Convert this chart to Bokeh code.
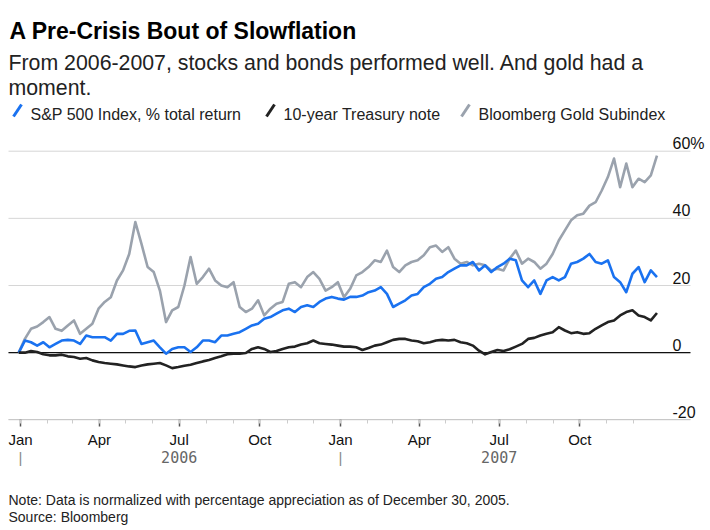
import pandas as pd
from bokeh.plotting import figure
from bokeh.models import Range1d, FixedTicker, Label, Arrow, ColumnDataSource
from bokeh.embed import file_html
from bokeh.resources import INLINE

# ---------------- data (weekly) ----------------
first_date = "2005-12-30"
n_weeks = 105

sp500 = [0, 3.6, 3.1, 2.1, 3.1, 1.6, 2.6, 3.6, 3.8, 3.6,
         2.6, 5.1, 4.6, 4.6, 4.6, 3.6, 5.6, 5.6, 6.5, 6.6,
         2.6, 3.1, 3.6, 1.6, -0.3, 1.1, 1.6, 1.6, 0.2, 1.6,
         3.6, 3.6, 3.1, 5.1, 5.1, 5.6, 6.1, 7.1, 8.1, 8.6,
         10.1, 10.6, 11.6, 12.6, 13.1, 12.1, 13.6, 14.1, 13.6, 15.1,
         16.1, 16.6, 16.1, 15.8, 16.6, 16.6, 17.0, 18.0, 18.5, 19.5,
         17.5, 13.6, 14.6, 15.6, 17.0, 17.5, 19.5, 20.5, 22.0, 22.5,
         24.0, 25.0, 26.0, 26.0, 27.0, 24.5, 26.0, 24.0, 25.5, 26.5,
         28.0, 27.5, 21.5, 19.5, 21.5, 17.5, 21.5, 22.5, 21.5, 22.5,
         26.5, 27.0, 28.0, 29.4, 27.0, 26.5, 27.5, 22.5, 21.0, 18.0,
         23.5, 25.5, 21.0, 24.5, 22.5]

treasury = [0, 0.0, 0.5, 0.2, -0.5, -0.8, -0.8, -0.6, -1.1, -1.3,
            -1.8, -1.6, -2.3, -2.8, -3.1, -3.3, -3.5, -3.8, -4.1, -4.3,
            -3.8, -3.5, -3.3, -3.1, -3.8, -4.6, -4.3, -3.9, -3.6, -3.1,
            -2.6, -2.2, -1.6, -1.1, -0.5, -0.3, -0.3, -0.1, 1.1, 1.6,
            1.1, 0.2, 0.5, 1.1, 1.6, 1.8, 2.4, 2.8, 3.6, 2.8,
            2.6, 2.4, 2.1, 1.8, 1.8, 1.6, 0.8, 1.4, 2.1, 2.4,
            3.1, 3.8, 4.1, 4.1, 3.6, 3.4, 2.8, 3.1, 3.6, 3.8,
            3.6, 3.8, 3.1, 2.8, 2.1, 0.6, -0.5, 0.2, 0.8, 0.5,
            1.0, 1.8, 2.6, 4.1, 4.4, 5.1, 5.6, 6.1, 7.6, 6.6,
            5.8, 6.1, 5.6, 5.8, 7.1, 8.1, 9.1, 9.6, 11.1, 12.1,
            12.6, 11.1, 10.6, 9.6, 11.8]

gold = [0, 4.1, 7.1, 7.8, 9.1, 10.6, 7.1, 6.5, 8.1, 9.6,
        5.6, 7.1, 8.6, 13.1, 15.1, 16.5, 21.5, 24.5, 29.4, 38.9,
        32.4, 25.5, 24.0, 18.5, 9.1, 12.6, 13.6, 20.0, 28.5, 20.5,
        22.5, 25.0, 21.5, 20.0, 19.5, 21.0, 13.6, 12.1, 13.1, 15.6,
        11.1, 13.1, 14.6, 15.1, 20.5, 21.0, 19.5, 22.5, 24.0, 22.0,
        18.5, 19.5, 21.0, 16.5, 19.0, 23.0, 24.0, 25.5, 27.5, 27.0,
        30.4, 25.5, 24.0, 26.0, 27.0, 27.5, 29.0, 31.4, 31.9, 30.0,
        31.4, 28.0, 26.5, 27.0, 26.0, 26.5, 26.0, 24.5, 25.0, 24.5,
        28.0, 30.4, 26.5, 28.0, 27.0, 25.0, 26.5, 29.4, 33.4, 36.4,
        39.4, 40.9, 41.4, 43.8, 44.8, 48.3, 52.3, 57.8, 49.3, 56.3,
        49.3, 51.8, 50.8, 52.8, 58.7]

series_names = ["S&P 500 Index, % total return", "10-year Treasury note", "Bloomberg Gold Subindex"]
y_ticks = [-20, 0, 20, 40, 60]
y_tick_labels = ["-20", "0", "20", "40", "60%"]
major_tick_dates = ["2006-01-01", "2006-04-01", "2006-07-01", "2006-10-01",
                    "2007-01-01", "2007-04-01", "2007-07-01", "2007-10-01"]
major_tick_labels = ["Jan", "Apr", "Jul", "Oct", "Jan", "Apr", "Jul", "Oct"]
year_labels = ["2006", "2007"]
year_centers = ["2006-07-01", "2007-07-01"]
year_starts = ["2006-01-01", "2007-01-01"]

title_text = "A Pre-Crisis Bout of Slowflation"
subtitle_lines = ["From 2006-2007, stocks and bonds performed well. And gold had a", "moment."]
note_lines = ["Note: Data is normalized with percentage appreciation as of December 30, 2005.",
              "Source: Bloomberg"]

# ---------------- layout ----------------
def ms(d):
    return pd.Timestamp(d).value / 1e6

W, H = 706, 528
X_START, X_END = "2005-12-09 04:30", "2008-02-22 12:00"      # whole canvas width
PLOT_LEFT, PLOT_RIGHT = "2005-12-18 07:30", "2008-02-04 05:00"  # visible chart area
AXIS_PX = 419.3            # pixel row of the -20 level (x axis)
PX_PER_UNIT = 268.6 / 80
Y_MIN = -20 - (H - AXIS_PX) / PX_PER_UNIT
Y_MAX = -20 + AXIS_PX / PX_PER_UNIT


def sy(page_y):
    """screen y (up from the frame bottom) for a pixel row"""
    return H - page_y


dates = pd.date_range(first_date, periods=n_weeks, freq="7D")
src = ColumnDataSource(dict(date=dates, sp=sp500, tr=treasury, au=gold))
grid_src = ColumnDataSource(dict(x0=[ms(PLOT_LEFT)] * len(y_ticks), x1=[ms(PLOT_RIGHT)] * len(y_ticks),
                                 y=y_ticks))

BLUE = "#1a72f0"
BLACK = "#222222"
GRAY = "#9aa2ad"
FONT = "Liberation Sans"

p = figure(width=W, height=H, x_axis_type="datetime", y_axis_location=None,
           output_backend="svg", toolbar_location=None, title=None,
           x_range=Range1d(ms(X_START), ms(X_END)),
           y_range=Range1d(Y_MIN, Y_MAX),
           min_border_left=0, min_border_right=0, min_border_top=0, min_border_bottom=0)
p.outline_line_color = None
p.background_fill_color = "white"
p.border_fill_color = "white"
p.xgrid.visible = False
p.ygrid.visible = False

# gridlines (the -20 one is covered by the axis) and zero line
p.segment("x0", "y", "x1", "y", source=grid_src, line_color="#d6d6d6", line_width=1)
p.segment(x0=[ms(PLOT_LEFT)], y0=[0], x1=[ms(PLOT_RIGHT)], y1=[0], line_color="#111111", line_width=1.2)

p.line("date", "au", source=src, line_color=GRAY, line_width=2.6, line_join="round")
p.line("date", "sp", source=src, line_color=BLUE, line_width=2.6, line_join="round")
p.line("date", "tr", source=src, line_color=BLACK, line_width=2.6, line_join="round")

# month axis, drawn at the -20 level
minor = [ms(d) for d in pd.date_range("2006-01-01", "2007-12-01", freq="MS")]
xa = p.xaxis[0]
xa.fixed_location = -20
xa.bounds = (ms(PLOT_LEFT), ms(PLOT_RIGHT))
xa.ticker = FixedTicker(ticks=[ms(d) for d in major_tick_dates], minor_ticks=minor)
xa.major_label_overrides = {ms(d): lab for d, lab in zip(major_tick_dates, major_tick_labels)}
xa.axis_line_color = "#c8c8c8"
xa.major_tick_line_color = "#555555"
xa.major_tick_line_width = 1.5
xa.major_tick_out = 7
xa.major_tick_in = 0
xa.minor_tick_line_color = "#cccccc"
xa.minor_tick_out = 4
xa.minor_tick_in = 0
xa.major_label_text_font = FONT
xa.major_label_text_font_size = "15px"
xa.major_label_text_color = "#111111"
xa.major_label_standoff = 4

# year labels and separators
for d, lab in zip(year_centers, year_labels):
    p.add_layout(Label(x=ms(d), x_units="data", y=sy(456), y_units="screen", text=lab,
                       text_font="DejaVu Sans Mono", text_font_size="15px", text_color="#666666",
                       text_align="center", text_baseline="middle"))
for d in year_starts:
    p.add_layout(Label(x=ms(d), x_units="data", y=sy(456.5), y_units="screen", text="|",
                       text_font=FONT, text_font_size="15px", text_color="#8a8a8a",
                       text_align="center", text_baseline="middle"))

# notes
for i, line in enumerate(note_lines):
    p.add_layout(Label(x=8, y=sy(499 + 17 * i), x_units="screen", y_units="screen", text=line,
                       text_font=FONT, text_font_size="14px", text_color="#222222",
                       text_baseline="alphabetic"))

# y labels (inside right)
for v, lab in zip(y_ticks, y_tick_labels):
    p.add_layout(Label(x=672, x_units="screen", y=v, y_units="data", y_offset=8,
                       text=lab, text_font=FONT, text_font_size="16px",
                       text_color="#111111", text_baseline="alphabetic", text_align="left"))

# title, subtitle
p.add_layout(Label(x=9, y=sy(30), x_units="screen", y_units="screen", text=title_text,
                   text_font=FONT, text_font_style="bold", text_font_size="23px",
                   text_color="#000000", text_baseline="alphabetic"))
for i, line in enumerate(subtitle_lines):
    p.add_layout(Label(x=8, y=sy(62 + 25.5 * i), x_units="screen", y_units="screen", text=line,
                       text_font=FONT, text_font_size="21.3px", text_color="#222222",
                       text_baseline="alphabetic"))

# legend
legend_x = [8, 261, 456]
for name, col, lx in zip(series_names, [BLUE, BLACK, GRAY], legend_x):
    p.add_layout(Arrow(end=None, x_start=lx + 5, y_start=sy(116), x_end=lx + 13, y_end=sy(104),
                       start_units="screen", end_units="screen",
                       line_color=col, line_width=3))
    p.add_layout(Label(x=lx + 22, y=sy(114), x_units="screen", y_units="screen", text=name,
                       text_font=FONT, text_font_size="16px", text_color="#222222",
                       text_baseline="alphabetic"))

open("out.html", "w").write(file_html(p, INLINE))
